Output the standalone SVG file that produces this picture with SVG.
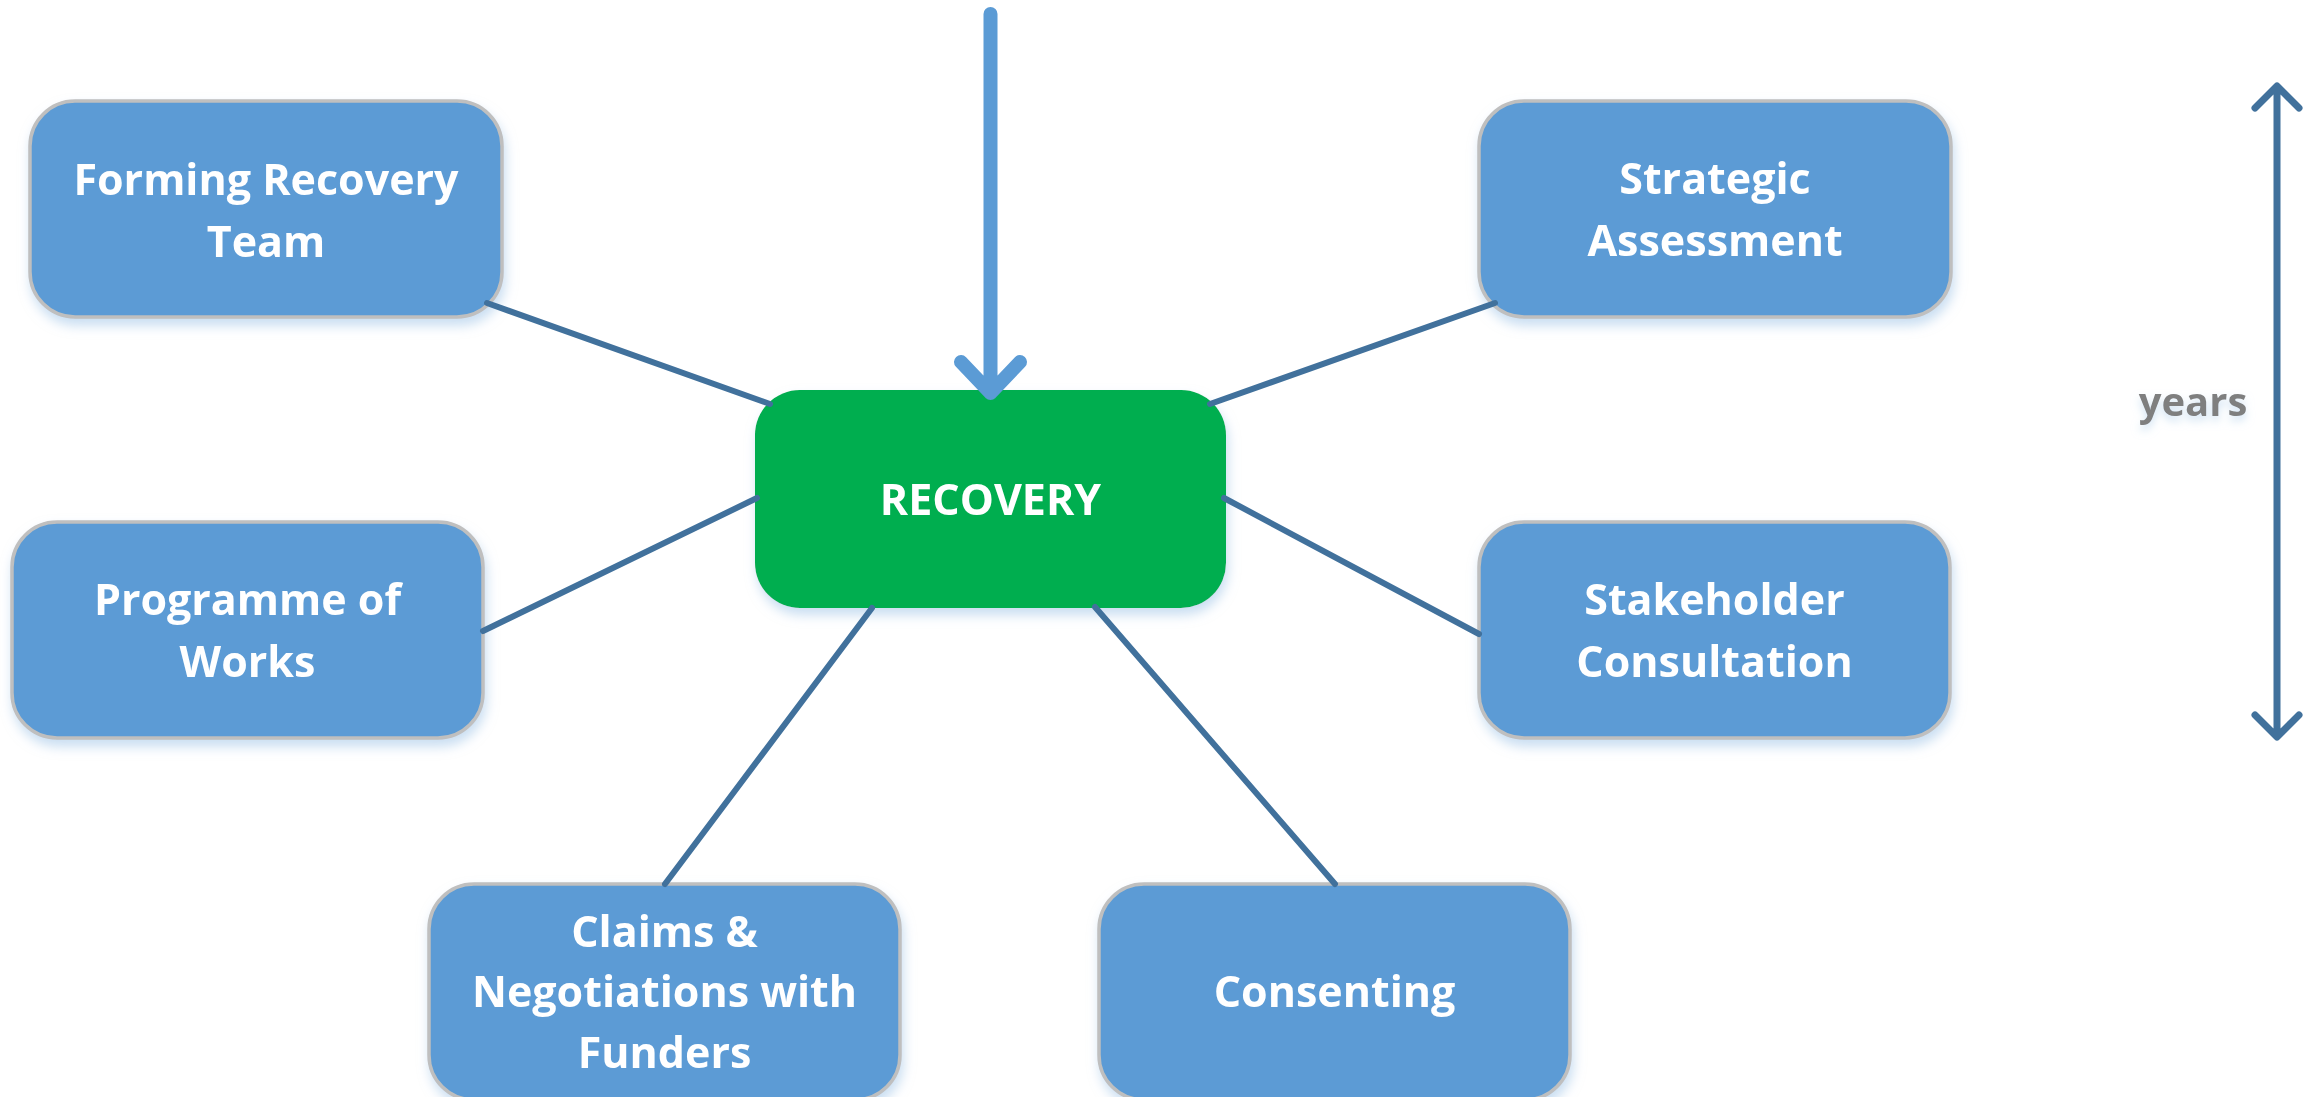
<svg xmlns="http://www.w3.org/2000/svg" width="2313" height="1097" viewBox="0 0 2313 1097">
  <defs>
    <filter id="sh" x="-10%" y="-10%" width="120%" height="130%">
      <feDropShadow dx="2" dy="7" stdDeviation="6" flood-color="#9DC3E6" flood-opacity="0.55"/>
    </filter>
    <filter id="tsh" x="-20%" y="-30%" width="140%" height="180%">
      <feDropShadow dx="0" dy="5" stdDeviation="4" flood-color="#BDD7EE" flood-opacity="0.7"/>
    </filter>
  </defs>
  <style>
    .box { fill: #5B9BD5; stroke: #BFBFBF; stroke-width: 3.5; }
    .core { fill: #00AE4F; }
    .lbl { font-family: "Open Sans", "Liberation Sans", sans-serif; font-weight: 700; font-size: 43px; fill: #FFFFFF; text-anchor: middle; }
    .con { stroke: #41719C; stroke-width: 6; stroke-linecap: round; fill: none; }
    .main { stroke: #5B9BD5; stroke-width: 14; stroke-linecap: round; stroke-linejoin: round; fill: none; }
    .years { stroke: #41719C; stroke-width: 7; stroke-linecap: round; stroke-linejoin: round; fill: none; }
    .ylbl { font-family: "Open Sans", "Liberation Sans", sans-serif; font-weight: 700; font-size: 40px; fill: #7F7F7F; text-anchor: middle; }
  </style>

  <g id="node-forming" filter="url(#sh)">
    <rect class="box" x="30" y="101" width="472" height="216" rx="45" ry="45"/>
    <text class="lbl" x="266" y="195">Forming Recovery</text>
    <text class="lbl" x="266" y="257">Team</text>
  </g>
  <g id="node-programme" filter="url(#sh)">
    <rect class="box" x="12" y="522" width="471" height="216" rx="45" ry="45"/>
    <text class="lbl" x="247.5" y="615">Programme of</text>
    <text class="lbl" x="247.5" y="677">Works</text>
  </g>
  <g id="node-strategic" filter="url(#sh)">
    <rect class="box" x="1479" y="101" width="472" height="216" rx="45" ry="45"/>
    <text class="lbl" x="1715" y="194">Strategic</text>
    <text class="lbl" x="1715" y="256">Assessment</text>
  </g>
  <g id="node-stakeholder" filter="url(#sh)">
    <rect class="box" x="1479" y="522" width="471" height="216" rx="45" ry="45"/>
    <text class="lbl" x="1714.5" y="615">Stakeholder</text>
    <text class="lbl" x="1714.5" y="677">Consultation</text>
  </g>
  <g id="node-claims" filter="url(#sh)">
    <rect class="box" x="429" y="884" width="471" height="216" rx="45" ry="45"/>
    <text class="lbl" x="664.5" y="947">Claims &amp;</text>
    <text class="lbl" x="664.5" y="1007">Negotiations with</text>
    <text class="lbl" x="664.5" y="1068">Funders</text>
  </g>
  <g id="node-consenting" filter="url(#sh)">
    <rect class="box" x="1099" y="884" width="471" height="216" rx="45" ry="45"/>
    <text class="lbl" x="1334.5" y="1007">Consenting</text>
  </g>
  <g id="node-recovery" filter="url(#sh)">
    <rect class="core" x="755" y="390" width="471" height="218" rx="45" ry="45"/>
    <text class="lbl" x="990.5" y="515" font-size="44">RECOVERY</text>
  </g>

  <g id="connectors">
    <line class="con" x1="487" y1="303" x2="770" y2="404"/>
    <line class="con" x1="483" y1="631" x2="757" y2="498"/>
    <line class="con" x1="665" y1="884" x2="872" y2="608"/>
    <line class="con" x1="1335" y1="884" x2="1095" y2="607"/>
    <line class="con" x1="1479" y1="634" x2="1224" y2="498"/>
    <line class="con" x1="1495" y1="303" x2="1210" y2="404"/>
    <path class="main" d="M990.5 14 V393 M961 362 L990.5 393 L1020 362"/>
  </g>

  <g id="years-scale">
    <path class="years" d="M2277 87 V736 M2255 108 L2277 86 L2299 108 M2255 715 L2277 737 L2299 715"/>
    <text class="ylbl" x="2193" y="416" filter="url(#tsh)">years</text>
  </g>
</svg>
